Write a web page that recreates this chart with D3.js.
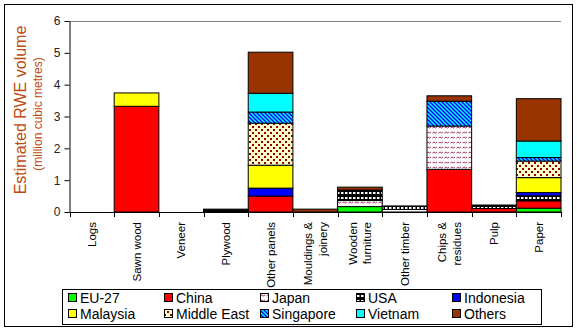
<!DOCTYPE html>
<html>
<head>
<meta charset="utf-8">
<script src="https://cdn.jsdelivr.net/npm/d3@7/dist/d3.min.js"></script>
<style>
  html, body { margin: 0; padding: 0; background: #fff; }
  svg { display: block; font-family: Arial, "Liberation Sans", sans-serif; }
</style>
</head>
<body>
<svg id="chart" width="577" height="332"></svg>
<script>
// Wood product categories and their tick labels (split over lines)
const categories = ["Logs", "Sawn wood", "Veneer", "Plywood", "Other panels",
  "Mouldings & joinery", "Wooden furniture", "Other timber", "Chips & residues", "Pulp", "Paper"];
const tickLabels = [["Logs"], ["Sawn wood"], ["Veneer"], ["Plywood"], ["Other panels"],
  ["Mouldings &", "joinery"], ["Wooden", "furniture"], ["Other timber"], ["Chips &", "residues"], ["Pulp"], ["Paper"]];

// Supplier series, million m3 RWE per category
const seriesNames = ["EU-27", "China", "Japan", "USA", "Indonesia", "Malaysia", "Middle East", "Singapore", "Vietnam", "Others"];
const eu27       = [0, 0,    0, 0,    0,    0,    0.17, 0,    0,    0,    0.12];
const china      = [0, 3.32, 0, 0,    0.50, 0,    0,    0,    1.34, 0.11, 0.23];
const japan      = [0, 0,    0, 0,    0,    0,    0.19, 0.08, 1.36, 0,    0];
const usa        = [0, 0,    0, 0.09, 0,    0,    0.33, 0.11, 0,    0.11, 0.16];
const indonesia  = [0, 0,    0, 0,    0.25, 0,    0,    0,    0,    0,    0.10];
const malaysia   = [0, 0.42, 0, 0,    0.72, 0,    0,    0,    0,    0,    0.47];
const middleEast = [0, 0,    0, 0,    1.32, 0,    0,    0,    0,    0,    0.52];
const singapore  = [0, 0,    0, 0,    0.35, 0,    0,    0,    0.78, 0,    0.11];
const vietnam    = [0, 0,    0, 0,    0.59, 0,    0,    0,    0,    0,    0.52];
const others     = [0, 0,    0, 0,    1.29, 0.09, 0.09, 0,    0.17, 0,    1.33];
const yTicks = [0, 1, 2, 3, 4, 5, 6];

const seriesValues = [eu27, china, japan, usa, indonesia, malaysia, middleEast, singapore, vietnam, others];
const fills = ["#00ff00", "#ff0000", "url(#pJapan)", "url(#pUSA)", "#0000ff",
  "#ffff00", "url(#pMiddleEast)", "url(#pSingapore)", "#00ffff", "#993300"];

const rows = categories.map((c, i) => {
  const r = { category: c };
  seriesNames.forEach((s, k) => { r[s] = seriesValues[k][i]; });
  return r;
});

const svg = d3.select("#chart");

// Fill patterns
const defs = svg.append("defs");
const pj = defs.append("pattern").attr("id", "pJapan").attr("patternUnits", "userSpaceOnUse")
  .attr("width", 6).attr("height", 5);
pj.append("rect").attr("width", 6).attr("height", 5).attr("fill", "#fff");
pj.append("path").attr("d", "M0.5,3 L2,2 L3.5,3 L5,2").attr("fill", "none")
  .attr("stroke", "#993366").attr("stroke-width", 1);

const pu = defs.append("pattern").attr("id", "pUSA").attr("patternUnits", "userSpaceOnUse")
  .attr("width", 4).attr("height", 5);
pu.append("rect").attr("width", 4).attr("height", 5).attr("fill", "#000");
pu.append("rect").attr("x", 1).attr("y", 2).attr("width", 2.5).attr("height", 2).attr("fill", "#fff");

const pm = defs.append("pattern").attr("id", "pMiddleEast").attr("patternUnits", "userSpaceOnUse")
  .attr("width", 6).attr("height", 6);
pm.append("rect").attr("width", 6).attr("height", 6).attr("fill", "#ffffcc");
pm.append("rect").attr("x", 0).attr("y", 0).attr("width", 2).attr("height", 2).attr("fill", "#990000");
pm.append("rect").attr("x", 3).attr("y", 3).attr("width", 2).attr("height", 2).attr("fill", "#990000");

const ps = defs.append("pattern").attr("id", "pSingapore").attr("patternUnits", "userSpaceOnUse")
  .attr("width", 4).attr("height", 4);
ps.append("rect").attr("width", 4).attr("height", 4).attr("fill", "#00ffff");
ps.append("path").attr("d", "M-1,-1 L5,5 M-1,3 L1,5 M3,-1 L5,1")
  .attr("stroke", "#0000ff").attr("stroke-width", 1.4);

// Outer frame
svg.append("rect").attr("x", 4.5).attr("y", 4.5).attr("width", 568).attr("height", 322)
  .attr("fill", "none").attr("stroke", "#000").attr("stroke-width", 1);

const x = d3.scaleBand().domain(categories).range([69.5, 561]).padding(0);
const y = d3.scaleLinear().domain([0, 6]).range([212, 21]);

// Top gridline at the axis maximum
svg.append("line").attr("x1", 69.5).attr("x2", 561)
  .attr("y1", Math.round(y(6)) + 0.5).attr("y2", Math.round(y(6)) + 0.5)
  .attr("stroke", "#808080");

// Stacked bars
const stack = d3.stack().keys(seriesNames)(rows);
svg.append("g").selectAll("g").data(stack).join("g")
  .attr("fill", (d, i) => fills[i])
  .selectAll("rect").data(d => d.filter(s => s[1] - s[0] > 0)).join("rect")
  .attr("x", d => x(d.data.category))
  .attr("width", x.bandwidth())
  .attr("y", d => y(d[1]))
  .attr("height", d => y(d[0]) - y(d[1]))
  .attr("stroke", "#000").attr("stroke-width", 1);

// Y axis
const yAxis = svg.append("g").attr("transform", "translate(69.5,0)")
  .call(d3.axisLeft(y).tickValues(yTicks).tickFormat(d3.format("d")).tickSize(5).tickSizeOuter(0).tickPadding(4));
yAxis.select(".domain").attr("stroke", "#000");
yAxis.selectAll(".tick line").attr("stroke", "#000");
yAxis.selectAll(".tick text").attr("font-size", 12).attr("fill", "#222")
  .attr("font-family", "Arial, 'Liberation Sans', sans-serif");

// X axis line with ticks at category boundaries
const xg = svg.append("g");
xg.append("line").attr("x1", 69.5).attr("x2", 561).attr("y1", 212.5).attr("y2", 212.5).attr("stroke", "#000");
const bounds = categories.map(c => x(c)).concat([x.range()[1]]);
xg.selectAll("line.tick").data(bounds).join("line").attr("class", "tick")
  .attr("x1", d => Math.round(d) + 0.5).attr("x2", d => Math.round(d) + 0.5)
  .attr("y1", 212).attr("y2", 217).attr("stroke", "#000");

// Rotated category labels
const lab = svg.append("g").selectAll("text").data(categories).join("text")
  .attr("transform", d => `translate(${x(d) + x.bandwidth() / 2},222) rotate(-90)`)
  .attr("text-anchor", "end").attr("font-size", 11.5).attr("fill", "#000");
lab.each(function (d, i) {
  const lines = tickLabels[i];
  const t = d3.select(this);
  lines.forEach((ln, k) => {
    const off = (k - (lines.length - 1) / 2) * 14.5;
    t.append("tspan").attr("x", 0).attr("y", off).attr("dy", "0.35em").text(ln);
  });
});

// Y axis title
const titleColor = "#c04a10";
svg.append("text").attr("transform", "translate(20,110) rotate(-90)")
  .attr("text-anchor", "middle").attr("dy", "0.35em")
  .attr("font-size", 16).attr("fill", titleColor).text("Estimated RWE volume");
svg.append("text").attr("transform", "translate(38,114) rotate(-90)")
  .attr("text-anchor", "middle").attr("dy", "0.35em")
  .attr("font-size", 12).attr("fill", titleColor).text("(million cubic metres)");

// Legend
const legend = svg.append("g");
legend.append("rect").attr("x", 62.5).attr("y", 289.5).attr("width", 479).attr("height", 35)
  .attr("fill", "#fff").attr("stroke", "#000");
const lg = legend.selectAll("g.item").data(seriesNames).join("g").attr("class", "item")
  .attr("transform", (d, i) => `translate(${68 + (i % 5) * 96},${i < 5 ? 298 : 314})`);
lg.append("rect").attr("x", 0.5).attr("y", -4.5).attr("width", 8).attr("height", 8)
  .attr("fill", (d, i) => fills[i]).attr("stroke", "#000");
lg.append("text").attr("x", 12).attr("dy", "0.35em").attr("font-size", 14).attr("fill", "#000")
  .text(d => d);
</script>
</body>
</html>
